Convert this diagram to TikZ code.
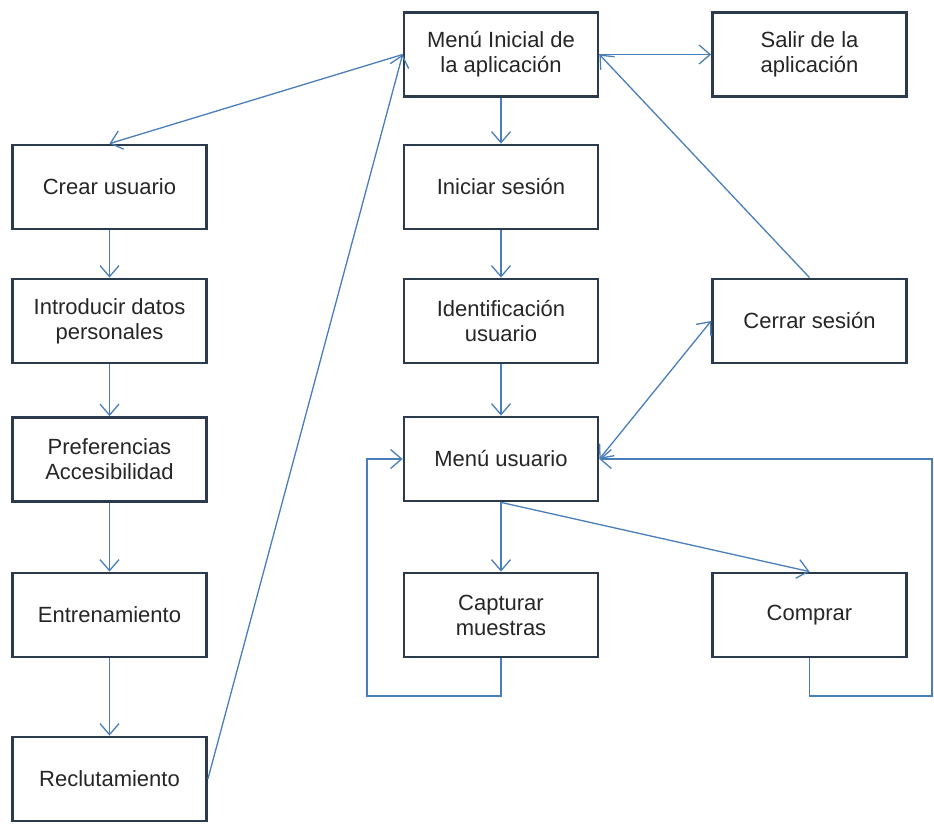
\documentclass[tikz,border=0pt]{standalone}
\usepackage{fontspec}
\setmainfont{Liberation Sans}
\usetikzlibrary{arrows.meta}
\definecolor{boxline}{HTML}{2B3A4C}
\definecolor{conn}{HTML}{4A7EBB}
\definecolor{txt}{HTML}{262626}
\tikzset{barb/.tip={Straight Barb[length=11pt,width=19pt,line width=1.3pt]}}
\begin{document}
\begin{tikzpicture}[x=1pt,y=-1pt,
  box/.style={draw=boxline, line width=2.8pt, fill=white, rectangle,
    minimum width=194pt, minimum height=84pt, inner sep=2pt, align=center,
    text=txt, font=\fontsize{22}{25}\selectfont},
  conn/.style={draw=conn, line width=1.3pt, -barb}]
\useasboundingbox (0,0) rectangle (934,824);
% nodes
\node[box] (mi) at (501,54.5) {Menú Inicial de\\la aplicación};
\node[box] (salir) at (809.5,54.5) {Salir de la\\aplicación};
\node[box] (crear) at (109.5,187) {Crear usuario};
\node[box] (intro) at (109.5,321) {Introducir datos\\personales};
\node[box] (pref) at (109.5,459.5) {Preferencias\\Accesibilidad};
\node[box] (entr) at (109.5,615) {Entrenamiento};
\node[box] (recl) at (109.5,779) {Reclutamiento};
\node[box] (ini) at (501,187) {Iniciar sesión};
\node[box] (ident) at (501,321) {Identificación\\usuario};
\node[box] (mu) at (501,459) {Menú usuario};
\node[box] (cap) at (501,615) {Capturar\\muestras};
\node[box] (comp) at (809.5,615) {Comprar};
\node[box] (cerrar) at (809.5,321) {Cerrar sesión};
\coordinate (lc) at (367,696);
\coordinate (rc) at (932,696);
% connectors
\draw[conn] (mi.east) -- (salir.west);
\draw[conn] (mi.south) -- (ini.north);
\draw[conn] (ini.south) -- (ident.north);
\draw[conn] (ident.south) -- (mu.north);
\draw[conn] (mu.south) -- (cap.north);
\draw[conn] (mu.south) -- (comp.north);
\draw[conn] (crear.south) -- (intro.north);
\draw[conn] (intro.south) -- (pref.north);
\draw[conn] (pref.south) -- (entr.north);
\draw[conn] (entr.south) -- (recl.north);
\draw[conn] (mi.west) -- (crear.north);
\draw[conn] (recl.east) -- (mi.west);
\draw[conn] (cerrar.north) -- (mi.east);
\draw[conn, barb-barb] (mu.east) -- (cerrar.west);
\draw[conn] (cap.south) |- (lc) |- (mu.west);
\draw[conn] (comp.south) |- (rc) |- (mu.east);
\end{tikzpicture}
\end{document}
